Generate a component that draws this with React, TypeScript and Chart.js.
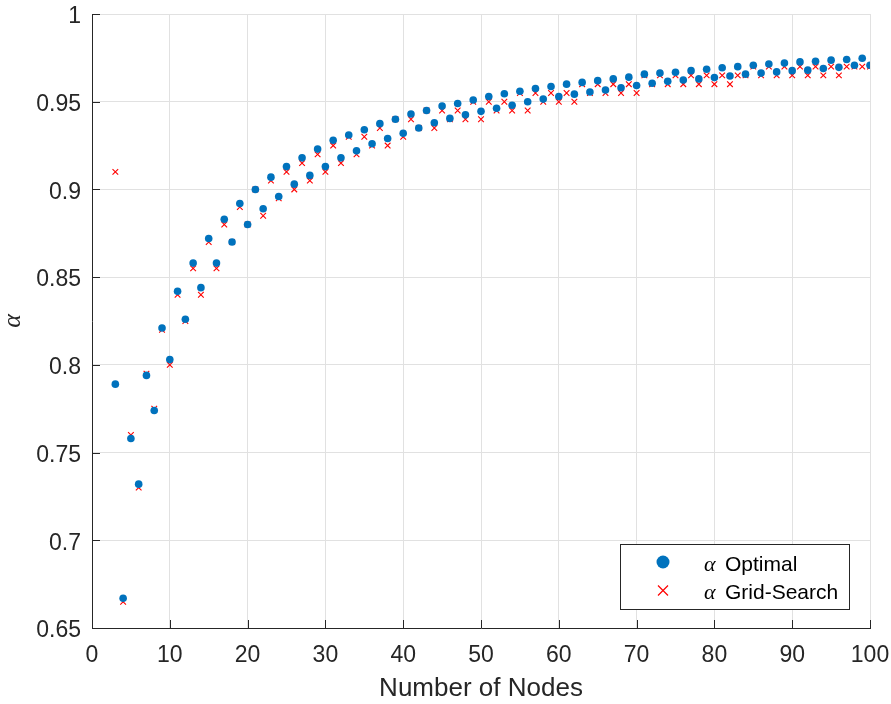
import React, { useEffect, useRef } from 'react';
import { Chart, registerables } from 'chart.js';

Chart.register(...registerables);

const nodes = [
  3, 4, 5, 6, 7, 8, 9, 10, 11, 12, 13, 14, 15, 16, 17, 18, 19, 20,
  21, 22, 23, 24, 25, 26, 27, 28, 29, 30, 31, 32, 33, 34, 35, 36, 37, 38, 39, 40,
  41, 42, 43, 44, 45, 46, 47, 48, 49, 50, 51, 52, 53, 54, 55, 56, 57, 58, 59, 60,
  61, 62, 63, 64, 65, 66, 67, 68, 69, 70, 71, 72, 73, 74, 75, 76, 77, 78, 79, 80,
  81, 82, 83, 84, 85, 86, 87, 88, 89, 90, 91, 92, 93, 94, 95, 96, 97, 98, 99, 100,
];

const alphaOptimal = [
  0.789, 0.667, 0.758, 0.732, 0.794, 0.774, 0.821, 0.803, 0.842, 0.826, 0.858, 0.844, 0.872, 0.858, 0.883, 0.870, 0.892, 0.880,
  0.900, 0.889, 0.907, 0.896, 0.913, 0.903, 0.918, 0.908, 0.923, 0.913, 0.928, 0.918, 0.931, 0.922, 0.934, 0.926, 0.9375, 0.929, 0.940, 0.932,
  0.943, 0.935, 0.945, 0.938, 0.9475, 0.9405, 0.949, 0.9425, 0.951, 0.9445, 0.953, 0.9463, 0.9545, 0.948, 0.956, 0.950, 0.9575, 0.9515, 0.9587, 0.953,
  0.960, 0.9543, 0.961, 0.9555, 0.962, 0.9567, 0.963, 0.958, 0.964, 0.9592, 0.9657, 0.9605, 0.9663, 0.9616, 0.9668, 0.9624, 0.9677, 0.963, 0.9685, 0.9638,
  0.9694, 0.9647, 0.970, 0.9657, 0.9708, 0.9663, 0.9715, 0.967, 0.972, 0.9677, 0.9727, 0.968, 0.973, 0.9689, 0.9737, 0.9696, 0.9741, 0.9708, 0.9748, 0.9708,
];

const alphaGridSearch = [
  0.910, 0.665, 0.760, 0.730, 0.795, 0.775, 0.820, 0.800, 0.840, 0.825, 0.855, 0.840, 0.870, 0.855, 0.880, 0.870, 0.890, 0.880,
  0.900, 0.885, 0.905, 0.895, 0.910, 0.900, 0.915, 0.905, 0.920, 0.910, 0.925, 0.915, 0.930, 0.920, 0.930, 0.925, 0.935, 0.925, 0.940, 0.930,
  0.940, 0.935, 0.945, 0.935, 0.945, 0.940, 0.945, 0.940, 0.950, 0.940, 0.950, 0.945, 0.950, 0.945, 0.955, 0.945, 0.955, 0.950, 0.955, 0.950,
  0.955, 0.950, 0.960, 0.955, 0.960, 0.955, 0.960, 0.955, 0.960, 0.955, 0.965, 0.960, 0.965, 0.960, 0.965, 0.960, 0.965, 0.960, 0.965, 0.960,
  0.965, 0.960, 0.965, 0.965, 0.970, 0.965, 0.970, 0.965, 0.970, 0.965, 0.970, 0.965, 0.970, 0.965, 0.970, 0.965, 0.970, 0.970, 0.970, 0.970,
];

const xTicks = [0, 10, 20, 30, 40, 50, 60, 70, 80, 90, 100];
const yTicks = [0.65, 0.7, 0.75, 0.8, 0.85, 0.9, 0.95, 1];
const xTickLabels = ['0', '10', '20', '30', '40', '50', '60', '70', '80', '90', '100'];
const yTickLabels = ['0.65', '0.7', '0.75', '0.8', '0.85', '0.9', '0.95', '1'];
const seriesNames = ['Optimal', 'Grid-Search'];
const xTitle = 'Number of Nodes';
const yTitle = 'α';
const greek = 'α';

const AXIS = '#262626';
const GRID = '#e1e1e1';
const BLUE = '#0072BD';
const RED = '#FF0000';
const SANS = '"Liberation Sans", Arial, Helvetica, sans-serif';
const SERIF = '"Liberation Serif", "Times New Roman", serif';

const zeroPadding = (s: any) => {
  s.paddingTop = 0;
  s.paddingBottom = 0;
  s.paddingLeft = 0;
  s.paddingRight = 0;
};

const inwardTicks = {
  id: 'inwardTicks',
  afterDatasetsDraw(chart: any) {
    const { ctx, chartArea: ca, scales } = chart;
    const x = scales.x;
    const y = scales.y;
    const len = 8;
    ctx.save();
    ctx.strokeStyle = AXIS;
    ctx.lineWidth = 1;
    ctx.beginPath();
    xTicks.forEach((v) => {
      const p = Math.round(x.getPixelForValue(v)) + 0.5;
      ctx.moveTo(p, ca.bottom);
      ctx.lineTo(p, ca.bottom - len);
    });
    yTicks.forEach((v) => {
      const p = Math.round(y.getPixelForValue(v)) + 0.5;
      ctx.moveTo(ca.left, p);
      ctx.lineTo(ca.left + len, p);
    });
    ctx.stroke();
    ctx.restore();
  },
};

const boxLegend = {
  id: 'boxLegend',
  afterDraw(chart: any) {
    const { ctx, chartArea: ca } = chart;
    const right = ca.right - 21;
    const bottom = ca.bottom - 19;
    const w = 229;
    const h = 65;
    const left = right - w;
    const top = bottom - h;
    ctx.save();
    ctx.fillStyle = '#ffffff';
    ctx.fillRect(left, top, w, h);
    ctx.strokeStyle = AXIS;
    ctx.lineWidth = 1;
    ctx.strokeRect(Math.round(left) + 0.5, Math.round(top) + 0.5, w, h);

    const mx = left + 43;
    ctx.fillStyle = BLUE;
    ctx.beginPath();
    ctx.arc(mx, top + 18, 6.5, 0, Math.PI * 2);
    ctx.fill();
    ctx.strokeStyle = RED;
    ctx.lineWidth = 1.2;
    const cy = top + 46.5;
    const r = 5;
    ctx.beginPath();
    ctx.moveTo(mx - r, cy - r);
    ctx.lineTo(mx + r, cy + r);
    ctx.moveTo(mx - r, cy + r);
    ctx.lineTo(mx + r, cy - r);
    ctx.stroke();

    ctx.fillStyle = '#000000';
    ctx.textBaseline = 'alphabetic';
    ctx.textAlign = 'left';
    const baselines = [top + 27, top + 55];
    seriesNames.forEach((name, i) => {
      ctx.font = `italic 22px ${SERIF}`;
      ctx.fillText(greek, left + 84, baselines[i]);
      ctx.font = `21px ${SANS}`;
      ctx.fillText(name, left + 105, baselines[i]);
    });
    ctx.restore();
  },
};

export default function App() {
  const ref = useRef<HTMLCanvasElement | null>(null);

  useEffect(() => {
    if (!ref.current) return;
    const chart = new Chart(ref.current, {
      type: 'scatter',
      data: {
        datasets: [
          {
            label: greek + ' ' + seriesNames[0],
            data: nodes.map((n, i) => ({ x: n, y: alphaOptimal[i] })),
            pointStyle: 'circle',
            pointRadius: 3.8,
            pointBorderWidth: 0,
            backgroundColor: BLUE,
            borderColor: BLUE,
            showLine: false,
          },
          {
            label: greek + ' ' + seriesNames[1],
            data: nodes.map((n, i) => ({ x: n, y: alphaGridSearch[i] })),
            pointStyle: 'crossRot',
            pointRadius: 4,
            pointBorderWidth: 1.1,
            backgroundColor: RED,
            borderColor: RED,
            showLine: false,
          },
        ],
      },
      options: {
        responsive: false,
        animation: false,
        devicePixelRatio: 1,
        layout: { padding: { top: 14, right: 21, left: 0, bottom: 0 } },
        plugins: {
          legend: { display: false },
          tooltip: { enabled: false },
        },
        scales: {
          x: {
            type: 'linear',
            min: 0,
            max: 100,
            afterBuildTicks: (s: any) => {
              s.ticks = xTicks.map((v) => ({ value: v }));
            },
            afterFit: (s: any) => {
              s.height = 76;
              zeroPadding(s);
            },
            grid: { color: GRID, lineWidth: 1, drawTicks: false },
            border: { display: true, color: AXIS, width: 1 },
            ticks: {
              padding: 14,
              color: AXIS,
              maxRotation: 0,
              autoSkip: false,
              font: { family: SANS, size: 23 },
              callback: (v: any) => xTickLabels[xTicks.indexOf(Number(v))] ?? String(v),
            },
            title: {
              display: true,
              text: xTitle,
              color: AXIS,
              padding: { top: 0, bottom: 0 },
              font: { family: SANS, size: 26 },
            },
          },
          y: {
            type: 'linear',
            min: 0.65,
            max: 1,
            afterBuildTicks: (s: any) => {
              s.ticks = yTicks.map((v) => ({ value: v }));
            },
            afterFit: (s: any) => {
              s.width = 92;
              zeroPadding(s);
            },
            grid: { color: GRID, lineWidth: 1, drawTicks: false },
            border: { display: true, color: AXIS, width: 1 },
            ticks: {
              padding: 11,
              labelOffset: 3,
              color: AXIS,
              autoSkip: false,
              font: { family: SANS, size: 23, lineHeight: 1 },
              callback: (v: any) => {
                const idx = yTicks.findIndex((t) => Math.abs(t - Number(v)) < 1e-9);
                return idx >= 0 ? yTickLabels[idx] : String(v);
              },
            },
            title: {
              display: true,
              text: yTitle,
              color: AXIS,
              padding: { top: 0, bottom: 0 },
              font: { family: SERIF, size: 26, style: 'italic', lineHeight: 1 },
            },
          },
        },
      },
      plugins: [inwardTicks, boxLegend],
    });
    return () => chart.destroy();
  }, []);

  return (
    <div style={{ position: 'absolute', left: 0, top: 0, width: 891, height: 704, background: '#ffffff' }}>
      <canvas ref={ref} width={891} height={704} style={{ display: 'block' }} />
    </div>
  );
}
